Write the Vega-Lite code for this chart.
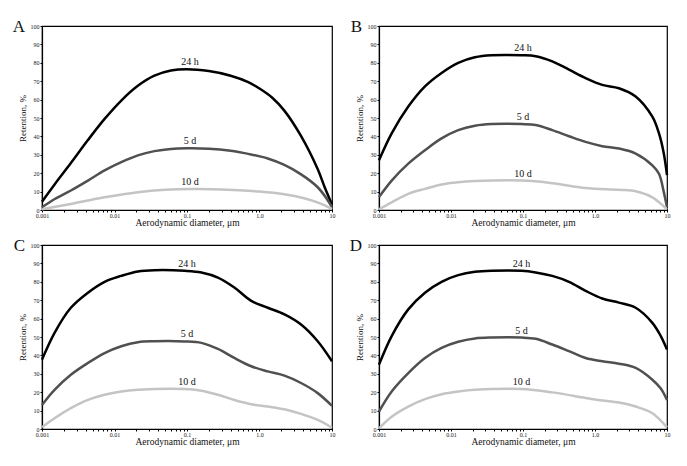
{
  "$schema": "https://vega.github.io/schema/vega-lite/v6.json",
  "padding": {"left": 12, "top": 17, "right": 5, "bottom": 5},
  "background": "white",
  "data": {"values": [
    {"p":"A","k":"t","x":0.001,"y":100,"lab":"A"},
    {"p":"B","k":"t","x":0.001,"y":100,"lab":"B"},
    {"p":"C","k":"t","x":0.001,"y":100,"lab":"C"},
    {"p":"D","k":"t","x":0.001,"y":100,"lab":"D"},
    {"p":"A","k":"l","x":0.11,"y":76.5,"lab":"24 h"},
    {"p":"A","k":"l","x":0.11,"y":33.5,"lab":"5 d"},
    {"p":"A","k":"l","x":0.11,"y":11.4,"lab":"10 d"},
    {"p":"B","k":"l","x":0.1,"y":84.1,"lab":"24 h"},
    {"p":"B","k":"l","x":0.1,"y":46.7,"lab":"5 d"},
    {"p":"B","k":"l","x":0.1,"y":16,"lab":"10 d"},
    {"p":"C","k":"l","x":0.1,"y":86,"lab":"24 h"},
    {"p":"C","k":"l","x":0.1,"y":47.7,"lab":"5 d"},
    {"p":"C","k":"l","x":0.1,"y":21.7,"lab":"10 d"},
    {"p":"D","k":"l","x":0.095,"y":86,"lab":"24 h"},
    {"p":"D","k":"l","x":0.095,"y":49.7,"lab":"5 d"},
    {"p":"D","k":"l","x":0.095,"y":21.7,"lab":"10 d"},

    {"p":"A","k":"c","s":"24 h","x":0.001,"y":4.5},
    {"p":"A","k":"c","s":"24 h","x":0.0015,"y":14},
    {"p":"A","k":"c","s":"24 h","x":0.0025,"y":25.5},
    {"p":"A","k":"c","s":"24 h","x":0.0043,"y":38},
    {"p":"A","k":"c","s":"24 h","x":0.0073,"y":49.5},
    {"p":"A","k":"c","s":"24 h","x":0.0124,"y":59.5},
    {"p":"A","k":"c","s":"24 h","x":0.021,"y":67.5},
    {"p":"A","k":"c","s":"24 h","x":0.0355,"y":73},
    {"p":"A","k":"c","s":"24 h","x":0.06,"y":75.8},
    {"p":"A","k":"c","s":"24 h","x":0.1,"y":76.5},
    {"p":"A","k":"c","s":"24 h","x":0.2,"y":75.5},
    {"p":"A","k":"c","s":"24 h","x":0.4,"y":73},
    {"p":"A","k":"c","s":"24 h","x":0.7,"y":69.5},
    {"p":"A","k":"c","s":"24 h","x":1.0,"y":66},
    {"p":"A","k":"c","s":"24 h","x":1.5,"y":61},
    {"p":"A","k":"c","s":"24 h","x":2.2,"y":54},
    {"p":"A","k":"c","s":"24 h","x":3.7,"y":40.5},
    {"p":"A","k":"c","s":"24 h","x":6.3,"y":22.5},
    {"p":"A","k":"c","s":"24 h","x":8.0,"y":12},
    {"p":"A","k":"c","s":"24 h","x":10,"y":3},

    {"p":"A","k":"c","s":"5 d","x":0.001,"y":1.5},
    {"p":"A","k":"c","s":"5 d","x":0.0015,"y":6},
    {"p":"A","k":"c","s":"5 d","x":0.0025,"y":10.6},
    {"p":"A","k":"c","s":"5 d","x":0.0043,"y":16},
    {"p":"A","k":"c","s":"5 d","x":0.0073,"y":21.5},
    {"p":"A","k":"c","s":"5 d","x":0.0124,"y":26},
    {"p":"A","k":"c","s":"5 d","x":0.021,"y":29.7},
    {"p":"A","k":"c","s":"5 d","x":0.0355,"y":32},
    {"p":"A","k":"c","s":"5 d","x":0.06,"y":33.2},
    {"p":"A","k":"c","s":"5 d","x":0.1,"y":33.5},
    {"p":"A","k":"c","s":"5 d","x":0.2,"y":33.3},
    {"p":"A","k":"c","s":"5 d","x":0.4,"y":32.2},
    {"p":"A","k":"c","s":"5 d","x":0.7,"y":30.5},
    {"p":"A","k":"c","s":"5 d","x":1.3,"y":28},
    {"p":"A","k":"c","s":"5 d","x":2.2,"y":24.5},
    {"p":"A","k":"c","s":"5 d","x":3.7,"y":19.5},
    {"p":"A","k":"c","s":"5 d","x":6.3,"y":12.5},
    {"p":"A","k":"c","s":"5 d","x":8.5,"y":6},
    {"p":"A","k":"c","s":"5 d","x":10,"y":1.5},

    {"p":"A","k":"c","s":"10 d","x":0.001,"y":0.4},
    {"p":"A","k":"c","s":"10 d","x":0.0025,"y":3.3},
    {"p":"A","k":"c","s":"10 d","x":0.0073,"y":6.9},
    {"p":"A","k":"c","s":"10 d","x":0.021,"y":9.7},
    {"p":"A","k":"c","s":"10 d","x":0.05,"y":11},
    {"p":"A","k":"c","s":"10 d","x":0.12,"y":11.4},
    {"p":"A","k":"c","s":"10 d","x":0.3,"y":11.2},
    {"p":"A","k":"c","s":"10 d","x":1,"y":10},
    {"p":"A","k":"c","s":"10 d","x":2.2,"y":8.5},
    {"p":"A","k":"c","s":"10 d","x":4,"y":6.5},
    {"p":"A","k":"c","s":"10 d","x":7,"y":3.5},
    {"p":"A","k":"c","s":"10 d","x":10,"y":0.5},

    {"p":"B","k":"c","s":"24 h","x":0.001,"y":27},
    {"p":"B","k":"c","s":"24 h","x":0.0015,"y":41.6},
    {"p":"B","k":"c","s":"24 h","x":0.00255,"y":56.2},
    {"p":"B","k":"c","s":"24 h","x":0.00435,"y":67.2},
    {"p":"B","k":"c","s":"24 h","x":0.0074,"y":74.5},
    {"p":"B","k":"c","s":"24 h","x":0.0126,"y":80},
    {"p":"B","k":"c","s":"24 h","x":0.0215,"y":83},
    {"p":"B","k":"c","s":"24 h","x":0.0367,"y":84.1},
    {"p":"B","k":"c","s":"24 h","x":0.095,"y":84.1},
    {"p":"B","k":"c","s":"24 h","x":0.15,"y":83.6},
    {"p":"B","k":"c","s":"24 h","x":0.255,"y":80.8},
    {"p":"B","k":"c","s":"24 h","x":0.435,"y":76.3},
    {"p":"B","k":"c","s":"24 h","x":0.74,"y":71.7},
    {"p":"B","k":"c","s":"24 h","x":1.26,"y":68},
    {"p":"B","k":"c","s":"24 h","x":2.15,"y":66.2},
    {"p":"B","k":"c","s":"24 h","x":3.67,"y":61.7},
    {"p":"B","k":"c","s":"24 h","x":6.26,"y":50.7},
    {"p":"B","k":"c","s":"24 h","x":7.74,"y":41.6},
    {"p":"B","k":"c","s":"24 h","x":9,"y":31},
    {"p":"B","k":"c","s":"24 h","x":10,"y":19},

    {"p":"B","k":"c","s":"5 d","x":0.001,"y":7},
    {"p":"B","k":"c","s":"5 d","x":0.0015,"y":16},
    {"p":"B","k":"c","s":"5 d","x":0.00255,"y":25.2},
    {"p":"B","k":"c","s":"5 d","x":0.00435,"y":32.5},
    {"p":"B","k":"c","s":"5 d","x":0.0074,"y":38.9},
    {"p":"B","k":"c","s":"5 d","x":0.0126,"y":43.4},
    {"p":"B","k":"c","s":"5 d","x":0.0215,"y":45.8},
    {"p":"B","k":"c","s":"5 d","x":0.0367,"y":46.7},
    {"p":"B","k":"c","s":"5 d","x":0.095,"y":46.7},
    {"p":"B","k":"c","s":"5 d","x":0.15,"y":46.2},
    {"p":"B","k":"c","s":"5 d","x":0.255,"y":43.4},
    {"p":"B","k":"c","s":"5 d","x":0.435,"y":40.1},
    {"p":"B","k":"c","s":"5 d","x":0.74,"y":37},
    {"p":"B","k":"c","s":"5 d","x":1.26,"y":34.7},
    {"p":"B","k":"c","s":"5 d","x":2.15,"y":33.4},
    {"p":"B","k":"c","s":"5 d","x":3.67,"y":30.7},
    {"p":"B","k":"c","s":"5 d","x":6.26,"y":24.3},
    {"p":"B","k":"c","s":"5 d","x":7.74,"y":19.7},
    {"p":"B","k":"c","s":"5 d","x":9,"y":10},
    {"p":"B","k":"c","s":"5 d","x":10,"y":1.5},

    {"p":"B","k":"c","s":"10 d","x":0.001,"y":0.4},
    {"p":"B","k":"c","s":"10 d","x":0.0015,"y":4.2},
    {"p":"B","k":"c","s":"10 d","x":0.00255,"y":8.8},
    {"p":"B","k":"c","s":"10 d","x":0.00435,"y":11.5},
    {"p":"B","k":"c","s":"10 d","x":0.0074,"y":13.9},
    {"p":"B","k":"c","s":"10 d","x":0.0126,"y":15.1},
    {"p":"B","k":"c","s":"10 d","x":0.0215,"y":15.7},
    {"p":"B","k":"c","s":"10 d","x":0.095,"y":16},
    {"p":"B","k":"c","s":"10 d","x":0.255,"y":14.6},
    {"p":"B","k":"c","s":"10 d","x":0.74,"y":12},
    {"p":"B","k":"c","s":"10 d","x":2.15,"y":11},
    {"p":"B","k":"c","s":"10 d","x":3.67,"y":10.2},
    {"p":"B","k":"c","s":"10 d","x":6.26,"y":6.9},
    {"p":"B","k":"c","s":"10 d","x":10,"y":0.4},

    {"p":"C","k":"c","s":"24 h","x":0.001,"y":37.7},
    {"p":"C","k":"c","s":"24 h","x":0.00149,"y":52.3},
    {"p":"C","k":"c","s":"24 h","x":0.0025,"y":65.9},
    {"p":"C","k":"c","s":"24 h","x":0.0043,"y":74.1},
    {"p":"C","k":"c","s":"24 h","x":0.0073,"y":80},
    {"p":"C","k":"c","s":"24 h","x":0.0124,"y":83.2},
    {"p":"C","k":"c","s":"24 h","x":0.021,"y":85.6},
    {"p":"C","k":"c","s":"24 h","x":0.0355,"y":86.3},
    {"p":"C","k":"c","s":"24 h","x":0.093,"y":86},
    {"p":"C","k":"c","s":"24 h","x":0.158,"y":85.1},
    {"p":"C","k":"c","s":"24 h","x":0.267,"y":82.3},
    {"p":"C","k":"c","s":"24 h","x":0.45,"y":76.9},
    {"p":"C","k":"c","s":"24 h","x":0.77,"y":69.6},
    {"p":"C","k":"c","s":"24 h","x":1.3,"y":65.9},
    {"p":"C","k":"c","s":"24 h","x":2.21,"y":62.3},
    {"p":"C","k":"c","s":"24 h","x":3.74,"y":56.8},
    {"p":"C","k":"c","s":"24 h","x":6.35,"y":47.7},
    {"p":"C","k":"c","s":"24 h","x":10,"y":36.8},

    {"p":"C","k":"c","s":"5 d","x":0.001,"y":13.1},
    {"p":"C","k":"c","s":"5 d","x":0.00149,"y":21.3},
    {"p":"C","k":"c","s":"5 d","x":0.0025,"y":29.5},
    {"p":"C","k":"c","s":"5 d","x":0.0043,"y":35.9},
    {"p":"C","k":"c","s":"5 d","x":0.0073,"y":41.3},
    {"p":"C","k":"c","s":"5 d","x":0.0124,"y":45},
    {"p":"C","k":"c","s":"5 d","x":0.021,"y":47.2},
    {"p":"C","k":"c","s":"5 d","x":0.0355,"y":47.7},
    {"p":"C","k":"c","s":"5 d","x":0.093,"y":47.6},
    {"p":"C","k":"c","s":"5 d","x":0.158,"y":46.8},
    {"p":"C","k":"c","s":"5 d","x":0.267,"y":43.5},
    {"p":"C","k":"c","s":"5 d","x":0.45,"y":38.6},
    {"p":"C","k":"c","s":"5 d","x":0.77,"y":34.1},
    {"p":"C","k":"c","s":"5 d","x":1.3,"y":31.3},
    {"p":"C","k":"c","s":"5 d","x":2.21,"y":29},
    {"p":"C","k":"c","s":"5 d","x":3.74,"y":25},
    {"p":"C","k":"c","s":"5 d","x":6.35,"y":19.5},
    {"p":"C","k":"c","s":"5 d","x":10,"y":12.6},

    {"p":"C","k":"c","s":"10 d","x":0.001,"y":1},
    {"p":"C","k":"c","s":"10 d","x":0.00149,"y":5.8},
    {"p":"C","k":"c","s":"10 d","x":0.0025,"y":11.3},
    {"p":"C","k":"c","s":"10 d","x":0.0043,"y":15.8},
    {"p":"C","k":"c","s":"10 d","x":0.0073,"y":18.6},
    {"p":"C","k":"c","s":"10 d","x":0.0124,"y":20.4},
    {"p":"C","k":"c","s":"10 d","x":0.021,"y":21.3},
    {"p":"C","k":"c","s":"10 d","x":0.093,"y":21.7},
    {"p":"C","k":"c","s":"10 d","x":0.158,"y":20.8},
    {"p":"C","k":"c","s":"10 d","x":0.267,"y":18.6},
    {"p":"C","k":"c","s":"10 d","x":0.45,"y":15.8},
    {"p":"C","k":"c","s":"10 d","x":0.77,"y":13.5},
    {"p":"C","k":"c","s":"10 d","x":1.3,"y":12.2},
    {"p":"C","k":"c","s":"10 d","x":2.21,"y":10.7},
    {"p":"C","k":"c","s":"10 d","x":3.74,"y":8.2},
    {"p":"C","k":"c","s":"10 d","x":6.35,"y":4.9},
    {"p":"C","k":"c","s":"10 d","x":10,"y":0.7},

    {"p":"D","k":"c","s":"24 h","x":0.001,"y":35},
    {"p":"D","k":"c","s":"24 h","x":0.0015,"y":50.5},
    {"p":"D","k":"c","s":"24 h","x":0.00255,"y":65},
    {"p":"D","k":"c","s":"24 h","x":0.00435,"y":74.1},
    {"p":"D","k":"c","s":"24 h","x":0.0074,"y":80},
    {"p":"D","k":"c","s":"24 h","x":0.0126,"y":83.6},
    {"p":"D","k":"c","s":"24 h","x":0.0215,"y":85.4},
    {"p":"D","k":"c","s":"24 h","x":0.0367,"y":86},
    {"p":"D","k":"c","s":"24 h","x":0.095,"y":86},
    {"p":"D","k":"c","s":"24 h","x":0.15,"y":85.1},
    {"p":"D","k":"c","s":"24 h","x":0.255,"y":83.2},
    {"p":"D","k":"c","s":"24 h","x":0.435,"y":80},
    {"p":"D","k":"c","s":"24 h","x":0.74,"y":75.1},
    {"p":"D","k":"c","s":"24 h","x":1.26,"y":70.9},
    {"p":"D","k":"c","s":"24 h","x":2.15,"y":68.7},
    {"p":"D","k":"c","s":"24 h","x":3.67,"y":65.9},
    {"p":"D","k":"c","s":"24 h","x":6.26,"y":57.7},
    {"p":"D","k":"c","s":"24 h","x":8.2,"y":50.5},
    {"p":"D","k":"c","s":"24 h","x":10,"y":43.2},

    {"p":"D","k":"c","s":"5 d","x":0.001,"y":9.5},
    {"p":"D","k":"c","s":"5 d","x":0.0015,"y":20.4},
    {"p":"D","k":"c","s":"5 d","x":0.00255,"y":30.4},
    {"p":"D","k":"c","s":"5 d","x":0.00435,"y":38.6},
    {"p":"D","k":"c","s":"5 d","x":0.0074,"y":44.1},
    {"p":"D","k":"c","s":"5 d","x":0.0126,"y":47.4},
    {"p":"D","k":"c","s":"5 d","x":0.0215,"y":49.2},
    {"p":"D","k":"c","s":"5 d","x":0.0367,"y":49.7},
    {"p":"D","k":"c","s":"5 d","x":0.095,"y":49.7},
    {"p":"D","k":"c","s":"5 d","x":0.15,"y":49},
    {"p":"D","k":"c","s":"5 d","x":0.255,"y":45.9},
    {"p":"D","k":"c","s":"5 d","x":0.435,"y":42.3},
    {"p":"D","k":"c","s":"5 d","x":0.74,"y":38.6},
    {"p":"D","k":"c","s":"5 d","x":1.26,"y":36.8},
    {"p":"D","k":"c","s":"5 d","x":2.15,"y":35.5},
    {"p":"D","k":"c","s":"5 d","x":3.67,"y":33.2},
    {"p":"D","k":"c","s":"5 d","x":6.26,"y":26.8},
    {"p":"D","k":"c","s":"5 d","x":8.2,"y":22},
    {"p":"D","k":"c","s":"5 d","x":10,"y":15.8},

    {"p":"D","k":"c","s":"10 d","x":0.001,"y":0.4},
    {"p":"D","k":"c","s":"10 d","x":0.0015,"y":6.7},
    {"p":"D","k":"c","s":"10 d","x":0.00255,"y":12.2},
    {"p":"D","k":"c","s":"10 d","x":0.00435,"y":16.2},
    {"p":"D","k":"c","s":"10 d","x":0.0074,"y":18.9},
    {"p":"D","k":"c","s":"10 d","x":0.0126,"y":20.4},
    {"p":"D","k":"c","s":"10 d","x":0.0215,"y":21.3},
    {"p":"D","k":"c","s":"10 d","x":0.095,"y":21.7},
    {"p":"D","k":"c","s":"10 d","x":0.255,"y":19.9},
    {"p":"D","k":"c","s":"10 d","x":0.74,"y":16.9},
    {"p":"D","k":"c","s":"10 d","x":1.26,"y":15.5},
    {"p":"D","k":"c","s":"10 d","x":2.15,"y":14.4},
    {"p":"D","k":"c","s":"10 d","x":3.67,"y":12.2},
    {"p":"D","k":"c","s":"10 d","x":6.26,"y":8.6},
    {"p":"D","k":"c","s":"10 d","x":10,"y":0.9}
  ]},
  "columns": 2,
  "spacing": {"row": 8, "column": 11},
  "concat": [
    {
      "transform": [{"filter": "datum.p == 'A'"}],
      "width": 290, "height": 184,
      "encoding": {
        "x": {"field": "x", "type": "quantitative", "scale": {"type": "log", "domain": [0.001, 10], "nice": false},
          "axis": {"title": "Aerodynamic diameter, μm", "values": [0.001,0.002,0.003,0.004,0.005,0.006,0.007,0.008,0.009,0.01,0.02,0.03,0.04,0.05,0.06,0.07,0.08,0.09,0.1,0.2,0.3,0.4,0.5,0.6,0.7,0.8,0.9,1,2,3,4,5,6,7,8,9,10],
            "labelExpr": "datum.value == 0.001 ? '0.001' : datum.value == 0.01 ? '0.01' : datum.value == 0.1 ? '0.1' : datum.value == 1 ? '1.0' : datum.value == 10 ? '10' : ''"}},
        "y": {"field": "y", "type": "quantitative", "scale": {"domain": [0, 100], "nice": false},
          "axis": {"title": "Retention, %", "values": [0,10,20,30,40,50,60,70,80,90,100]}}
      },
      "layer": [
        {"transform": [{"filter": "datum.k == 'c'"}], "mark": {"type": "line", "interpolate": "catmull-rom", "strokeWidth": 2.5},
          "encoding": {"color": {"field": "s", "type": "nominal", "scale": {"domain": ["24 h", "5 d", "10 d"], "range": ["#000000", "#505050", "#c4c4c4"]}, "legend": null}}},
        {"transform": [{"filter": "datum.k == 'l'"}], "mark": {"type": "text", "baseline": "alphabetic", "dy": -4, "fontSize": 10, "color": "#111"},
          "encoding": {"text": {"field": "lab"}}},
        {"transform": [{"filter": "datum.k == 't'"}], "mark": {"type": "text", "baseline": "alphabetic", "align": "right", "dx": -17, "dy": 6, "fontSize": 17, "color": "#111"},
          "encoding": {"text": {"field": "lab"}}}
      ]
    },
    {
      "transform": [{"filter": "datum.p == 'B'"}],
      "width": 288, "height": 184,
      "encoding": {
        "x": {"field": "x", "type": "quantitative", "scale": {"type": "log", "domain": [0.001, 10], "nice": false},
          "axis": {"title": "Aerodynamic diameter, μm", "values": [0.001,0.002,0.003,0.004,0.005,0.006,0.007,0.008,0.009,0.01,0.02,0.03,0.04,0.05,0.06,0.07,0.08,0.09,0.1,0.2,0.3,0.4,0.5,0.6,0.7,0.8,0.9,1,2,3,4,5,6,7,8,9,10],
            "labelExpr": "datum.value == 0.001 ? '0.001' : datum.value == 0.01 ? '0.01' : datum.value == 0.1 ? '0.1' : datum.value == 1 ? '1.0' : datum.value == 10 ? '10' : ''"}},
        "y": {"field": "y", "type": "quantitative", "scale": {"domain": [0, 100], "nice": false},
          "axis": {"title": "Retention, %", "values": [0,10,20,30,40,50,60,70,80,90,100]}}
      },
      "layer": [
        {"transform": [{"filter": "datum.k == 'c'"}], "mark": {"type": "line", "interpolate": "catmull-rom", "strokeWidth": 2.5},
          "encoding": {"color": {"field": "s", "type": "nominal", "scale": {"domain": ["24 h", "5 d", "10 d"], "range": ["#000000", "#505050", "#c4c4c4"]}, "legend": null}}},
        {"transform": [{"filter": "datum.k == 'l'"}], "mark": {"type": "text", "baseline": "alphabetic", "dy": -4, "fontSize": 10, "color": "#111"},
          "encoding": {"text": {"field": "lab"}}},
        {"transform": [{"filter": "datum.k == 't'"}], "mark": {"type": "text", "baseline": "alphabetic", "align": "right", "dx": -17, "dy": 6, "fontSize": 17, "color": "#111"},
          "encoding": {"text": {"field": "lab"}}}
      ]
    },
    {
      "transform": [{"filter": "datum.p == 'C'"}],
      "width": 290, "height": 184,
      "encoding": {
        "x": {"field": "x", "type": "quantitative", "scale": {"type": "log", "domain": [0.001, 10], "nice": false},
          "axis": {"title": "Aerodynamic diameter, μm", "values": [0.001,0.002,0.003,0.004,0.005,0.006,0.007,0.008,0.009,0.01,0.02,0.03,0.04,0.05,0.06,0.07,0.08,0.09,0.1,0.2,0.3,0.4,0.5,0.6,0.7,0.8,0.9,1,2,3,4,5,6,7,8,9,10],
            "labelExpr": "datum.value == 0.001 ? '0.001' : datum.value == 0.01 ? '0.01' : datum.value == 0.1 ? '0.1' : datum.value == 1 ? '1.0' : datum.value == 10 ? '10' : ''"}},
        "y": {"field": "y", "type": "quantitative", "scale": {"domain": [0, 100], "nice": false},
          "axis": {"title": "Retention, %", "values": [0,10,20,30,40,50,60,70,80,90,100]}}
      },
      "layer": [
        {"transform": [{"filter": "datum.k == 'c'"}], "mark": {"type": "line", "interpolate": "catmull-rom", "strokeWidth": 2.5},
          "encoding": {"color": {"field": "s", "type": "nominal", "scale": {"domain": ["24 h", "5 d", "10 d"], "range": ["#000000", "#505050", "#c4c4c4"]}, "legend": null}}},
        {"transform": [{"filter": "datum.k == 'l'"}], "mark": {"type": "text", "baseline": "alphabetic", "dy": -4, "fontSize": 10, "color": "#111"},
          "encoding": {"text": {"field": "lab"}}},
        {"transform": [{"filter": "datum.k == 't'"}], "mark": {"type": "text", "baseline": "alphabetic", "align": "right", "dx": -17, "dy": 6, "fontSize": 17, "color": "#111"},
          "encoding": {"text": {"field": "lab"}}}
      ]
    },
    {
      "transform": [{"filter": "datum.p == 'D'"}],
      "width": 288, "height": 184,
      "encoding": {
        "x": {"field": "x", "type": "quantitative", "scale": {"type": "log", "domain": [0.001, 10], "nice": false},
          "axis": {"title": "Aerodynamic diameter, μm", "values": [0.001,0.002,0.003,0.004,0.005,0.006,0.007,0.008,0.009,0.01,0.02,0.03,0.04,0.05,0.06,0.07,0.08,0.09,0.1,0.2,0.3,0.4,0.5,0.6,0.7,0.8,0.9,1,2,3,4,5,6,7,8,9,10],
            "labelExpr": "datum.value == 0.001 ? '0.001' : datum.value == 0.01 ? '0.01' : datum.value == 0.1 ? '0.1' : datum.value == 1 ? '1.0' : datum.value == 10 ? '10' : ''"}},
        "y": {"field": "y", "type": "quantitative", "scale": {"domain": [0, 100], "nice": false},
          "axis": {"title": "Retention, %", "values": [0,10,20,30,40,50,60,70,80,90,100]}}
      },
      "layer": [
        {"transform": [{"filter": "datum.k == 'c'"}], "mark": {"type": "line", "interpolate": "catmull-rom", "strokeWidth": 2.5},
          "encoding": {"color": {"field": "s", "type": "nominal", "scale": {"domain": ["24 h", "5 d", "10 d"], "range": ["#000000", "#505050", "#c4c4c4"]}, "legend": null}}},
        {"transform": [{"filter": "datum.k == 'l'"}], "mark": {"type": "text", "baseline": "alphabetic", "dy": -4, "fontSize": 10, "color": "#111"},
          "encoding": {"text": {"field": "lab"}}},
        {"transform": [{"filter": "datum.k == 't'"}], "mark": {"type": "text", "baseline": "alphabetic", "align": "right", "dx": -17, "dy": 6, "fontSize": 17, "color": "#111"},
          "encoding": {"text": {"field": "lab"}}}
      ]
    }
  ],
  "config": {
    "font": "Liberation Serif",
    "view": {"stroke": "#000", "strokeWidth": 1.2},
    "axis": {
      "grid": false,
      "labelFont": "Liberation Serif",
      "titleFont": "Liberation Serif",
      "titleFontWeight": "normal",
      "labelColor": "#222",
      "titleColor": "#111",
      "domainColor": "#000",
      "tickColor": "#000",
      "domainWidth": 1.2,
      "labelOverlap": false,
      "labelFlush": false,
      "labelFontSize": 6,
      "tickSize": 2
    },
    "axisX": {"labelPadding": 0, "titleFontSize": 9.5, "titlePadding": -1},
    "axisY": {"labelPadding": 1, "titleFontSize": 9, "titlePadding": 3},
    "text": {"font": "Liberation Serif"}
  }
}
